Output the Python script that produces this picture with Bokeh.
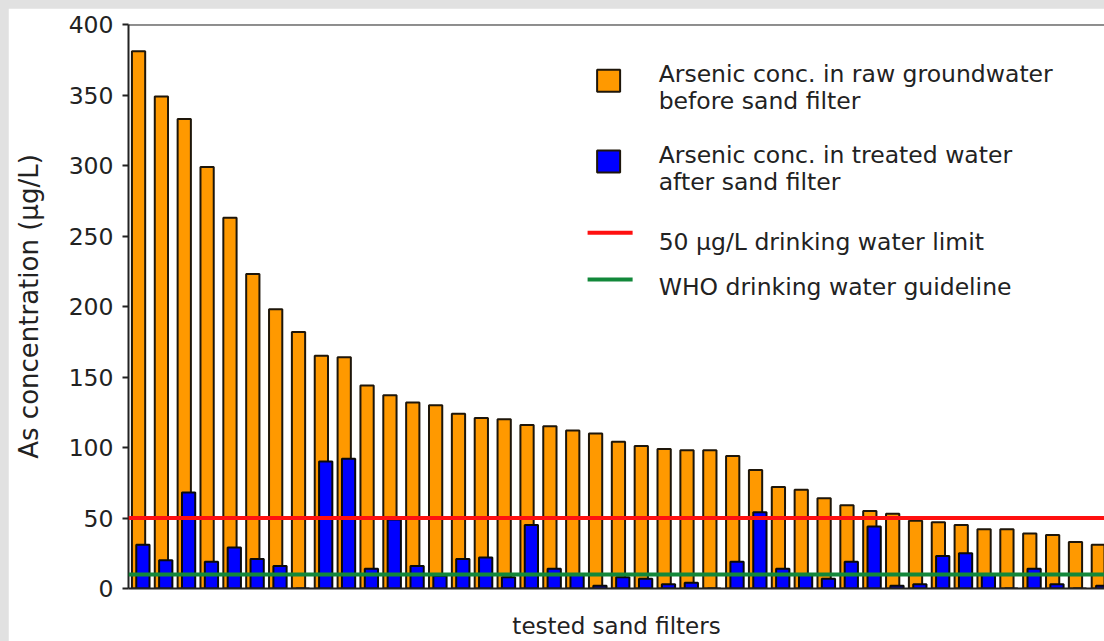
from bokeh.plotting import figure
from bokeh.models import Range1d, Span, FixedTicker, ColumnDataSource, GlobalInlineStyleSheet
from bokeh.transform import dodge
from bokeh.core.properties import value
from bokeh.embed import file_html
from bokeh.resources import INLINE

# ---- data ----
filters = list(range(1, 44))
raw_as = [381, 349, 333, 299, 263, 223, 198, 182, 165, 164,
          144, 137, 132, 130, 124, 121, 120, 116, 115, 112,
          110, 104, 101, 99, 98, 98, 94, 84, 72, 70,
          64, 59, 55, 53, 48, 47, 45, 42, 42, 39,
          38, 33, 31]
treated_as = [31, 20, 68, 19, 29, 21, 16, 0, 90, 92,
              14, 49, 16, 9, 21, 22, 8, 45, 14, 10,
              2, 8, 7, 3, 4, 0, 19, 54, 14, 10,
              7, 19, 44, 2, 3, 23, 25, 10, 0, 14,
              3, 0, 2]
limit_national = 50
limit_who = 10
y_ticks = [0, 50, 100, 150, 200, 250, 300, 350, 400]
legend_labels = [
    ["Arsenic conc. in raw groundwater", "before sand filter"],
    ["Arsenic conc. in treated water", "after sand filter"],
    ["50 \u00b5g/L drinking water limit"],
    ["WHO drinking water guideline"],
]

FONT = "DejaVu Sans"
TXT = "#222222"
ORANGE = "#ff9900"
BLUE = "#0000ff"
RED = "#ff1010"
GREEN = "#12883a"

src = ColumnDataSource(dict(f=filters, raw=raw_as, tr=treated_as))

p = figure(width=1096, height=633, output_backend="svg", toolbar_location=None,
           x_range=Range1d(0.56, 43.27), y_range=Range1d(0, 400),
           min_border_left=120, min_border_right=0, min_border_top=16,
           min_border_bottom=51)
p.stylesheets = [GlobalInlineStyleSheet(
    css="html, body { background-color: #e1e1e1 !important; } "
        "body { padding: 8px 0 0 8px !important; margin: 0 !important; overflow: hidden; }")]
p.background_fill_color = "white"
p.border_fill_color = "white"
p.outline_line_color = None
p.grid.visible = False

p.vbar(x="f", top="raw", width=0.58, source=src, fill_color=ORANGE,
       line_color="#1e160a", line_width=2)
p.vbar(x=dodge("f", 0.19), top="tr", width=0.58, source=src, fill_color=BLUE,
       line_color="#0a0a0a", line_width=2)

p.add_layout(Span(location=limit_national, dimension="width", line_color=RED, line_width=4))
p.add_layout(Span(location=limit_who, dimension="width", line_color=GREEN, line_width=4))
p.add_layout(Span(location=400, dimension="width", line_color=TXT, line_width=2))

# axes
p.yaxis.ticker = FixedTicker(ticks=y_ticks)
p.yaxis.minor_tick_line_color = None
p.yaxis.major_tick_in = 0
p.yaxis.major_tick_out = 6
p.yaxis.major_tick_line_width = 2
p.yaxis.major_tick_line_color = TXT
p.yaxis.axis_line_width = 2
p.yaxis.axis_line_color = TXT
p.yaxis.major_label_text_font = FONT
p.yaxis.major_label_text_font_size = "23.5px"
p.yaxis.major_label_text_color = TXT
p.yaxis.major_label_standoff = 9
p.yaxis.axis_label = "As concentration (\u00b5g/L)"
p.yaxis.axis_label_text_font = FONT
p.yaxis.axis_label_text_font_size = "26px"
p.yaxis.axis_label_text_font_style = "normal"
p.yaxis.axis_label_text_color = TXT
p.yaxis.axis_label_standoff = 22

p.xaxis.ticker = FixedTicker(ticks=[])
p.xaxis.minor_tick_line_color = None
p.xaxis.major_tick_line_color = None
p.xaxis.major_label_standoff = 0
p.xaxis.axis_line_width = 2
p.xaxis.axis_line_color = TXT
p.xaxis.axis_label = "tested sand filters"
p.xaxis.axis_label_text_font = FONT
p.xaxis.axis_label_text_font_size = "23px"
p.xaxis.axis_label_text_font_style = "normal"
p.xaxis.axis_label_text_color = TXT
p.xaxis.axis_label_standoff = 24

# ---- manual legend (positions in data units) ----
text_x = 23.76
sq_x = 21.57
p.rect(x=[sq_x, sq_x], y=[360.1, 302.8], width=23, height=22,
       width_units="screen", height_units="screen",
       fill_color=[ORANGE, BLUE], line_color="#1e160a", line_width=2)
p.segment(x0=[20.65, 20.65], x1=[22.62, 22.62], y0=[252.3, 219.1], y1=[252.3, 219.1],
          line_color=[RED, GREEN], line_width=4)
baselines = [[365.0, 346.0], [307.4, 288.3], [245.5], [214.0]]
tx, ty, tt = [], [], []
for lines, ys in zip(legend_labels, baselines):
    for t, yv in zip(lines, ys):
        tx.append(text_x); ty.append(yv); tt.append(t)
p.text(x=tx, y=ty, text=tt, text_font=value(FONT), text_font_size="23.5px",
       text_color=TXT, text_baseline="alphabetic", text_align="left")

open("out.html", "w").write(file_html(p, INLINE))
